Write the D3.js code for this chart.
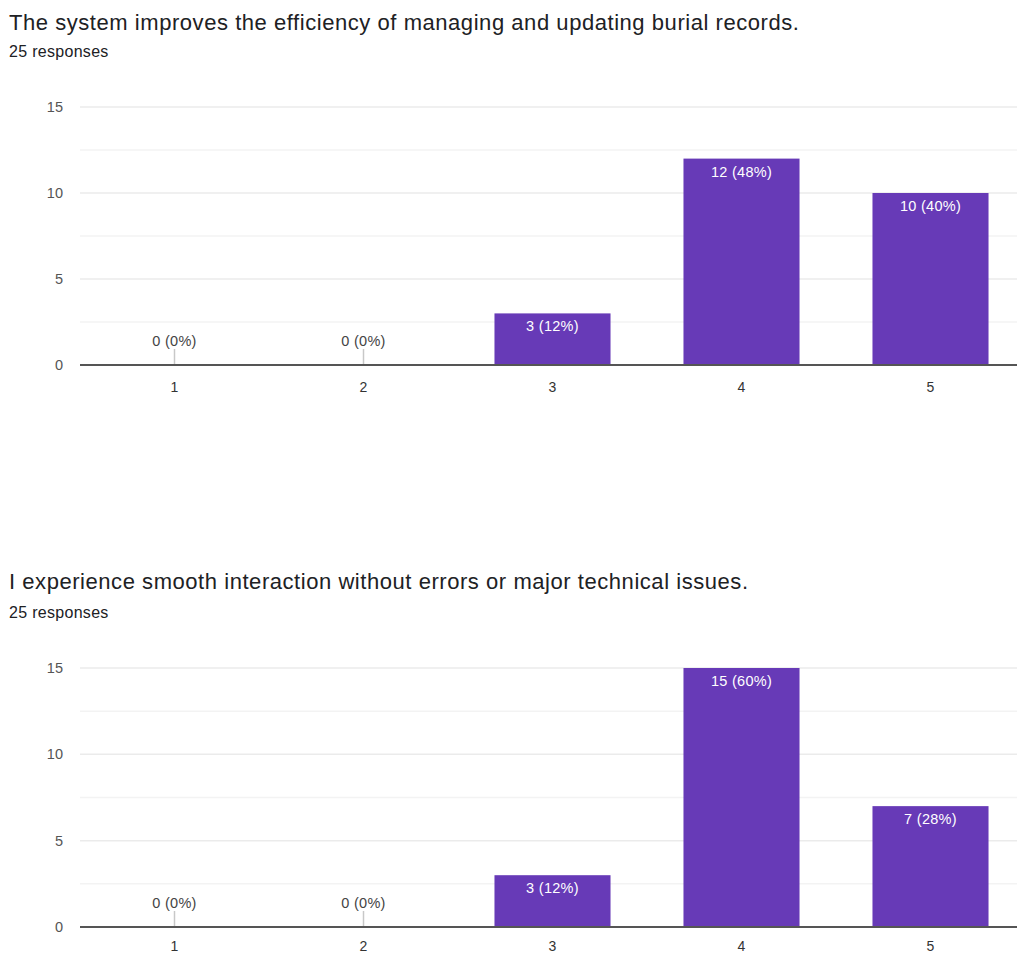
<!DOCTYPE html>
<html><head><meta charset="utf-8">
<script src="https://cdn.jsdelivr.net/npm/d3@7"></script>
<style>body{margin:0;background:#fff;}svg{display:block;font-family:"Liberation Sans",Arial,sans-serif;}</style>
</head><body>
<svg id="c" width="1017" height="954"></svg>
<script>
const categories = ["1","2","3","4","5"];
const titles = ["The system improves the efficiency of managing and updating burial records.",
                "I experience smooth interaction without errors or major technical issues."];
const responsesLabel = "25 responses";
const totalResponses = 25;
const values1 = [0,0,3,12,10];
const values2 = [0,0,3,15,7];
const yTicks = [0,5,10,15];

const svg = d3.select("#c");
const panels = [
  {title:titles[0], values:values1, titleY:30, respY:57, y0:365, y15:107, xlY:392},
  {title:titles[1], values:values2, titleY:589, respY:618, y0:927, y15:668, xlY:951}
];
const bandX = d3.scaleBand().domain(categories).range([80,1025]).paddingInner(0.386).paddingOuter(0.193);

panels.forEach(p=>{
  const g = svg.append("g");
  g.append("text").attr("x",9).attr("y",p.titleY).attr("font-size",22).attr("letter-spacing",0.55).attr("fill","#202124").text(p.title);
  g.append("text").attr("x",9).attr("y",p.respY).attr("font-size",16).attr("letter-spacing",0.3).attr("fill","#202124").text(responsesLabel);
  const y = d3.scaleLinear().domain([0,15]).range([p.y0,p.y15]);
  const gridVals = d3.range(2.5,15.01,2.5);
  g.selectAll(".grid").data(gridVals).join("line")
    .attr("x1",80).attr("x2",1017).attr("y1",d=>y(d)).attr("y2",d=>y(d))
    .attr("stroke",d=>d%5===0?"#ebebeb":"#f3f3f3").attr("stroke-width",1.5);
  g.selectAll(".yl").data(yTicks).join("text")
    .attr("x",63).attr("y",d=>y(d)+5).attr("text-anchor","end").attr("font-size",14.5).attr("fill","#555").text(d=>d);
  const data = categories.map((c,i)=>({c, v:p.values[i]}));
  const fmt = d=>`${d.v} (${Math.round(d.v/totalResponses*100)}%)`;
  g.selectAll(".bar").data(data.filter(d=>d.v>0)).join("rect")
    .attr("x",d=>bandX(d.c)).attr("width",bandX.bandwidth())
    .attr("y",d=>y(d.v)).attr("height",d=>y(0)-y(d.v)).attr("fill","#673ab7");
  g.selectAll(".bl").data(data.filter(d=>d.v>0)).join("text")
    .attr("x",d=>bandX(d.c)+bandX.bandwidth()/2).attr("y",d=>y(d.v)+18)
    .attr("text-anchor","middle").attr("font-size",14.5).attr("letter-spacing",0.3).attr("fill","#fff").text(fmt);
  const zeros = data.filter(d=>d.v===0);
  g.selectAll(".zs").data(zeros).join("line")
    .attr("x1",d=>bandX(d.c)+bandX.bandwidth()/2).attr("x2",d=>bandX(d.c)+bandX.bandwidth()/2)
    .attr("y1",y(0)-16).attr("y2",y(0)).attr("stroke","#c8c8c8").attr("stroke-width",1.5);
  g.selectAll(".zl").data(zeros).join("text")
    .attr("x",d=>bandX(d.c)+bandX.bandwidth()/2).attr("y",y(0)-19)
    .attr("text-anchor","middle").attr("font-size",14.5).attr("letter-spacing",0.3).attr("fill","#444").text(fmt);
  g.append("line").attr("x1",80).attr("x2",1017).attr("y1",y(0)).attr("y2",y(0)).attr("stroke","#555").attr("stroke-width",1.8);
  g.selectAll(".xl").data(categories).join("text")
    .attr("x",d=>bandX(d)+bandX.bandwidth()/2).attr("y",p.xlY)
    .attr("text-anchor","middle").attr("font-size",14).attr("fill","#333").text(d=>d);
});
</script>
</body></html>
